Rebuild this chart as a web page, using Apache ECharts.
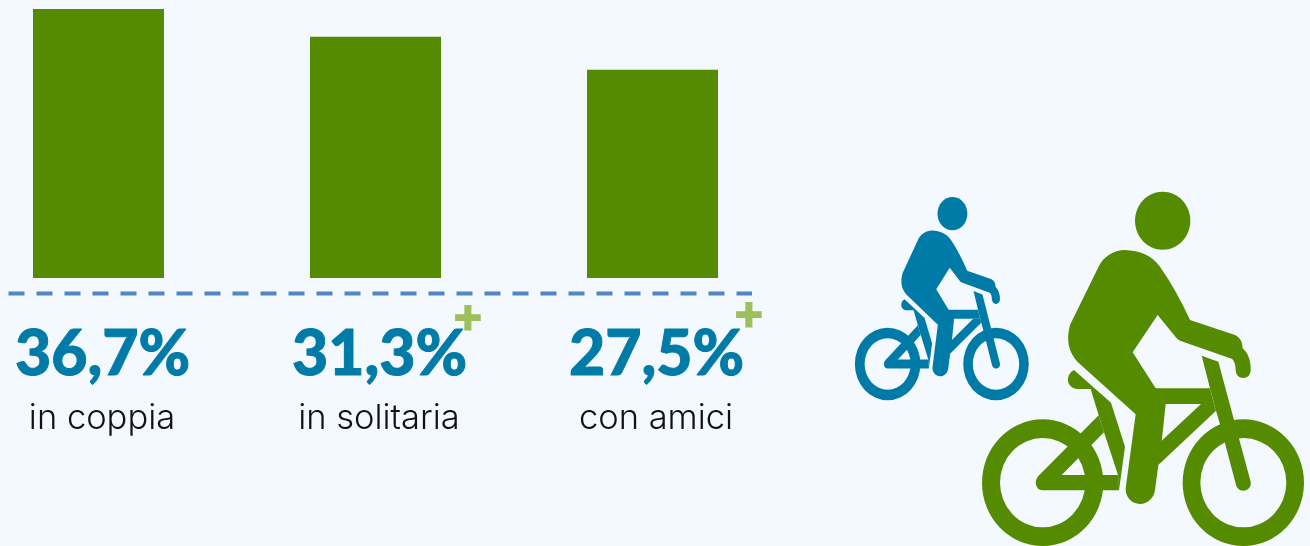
<!DOCTYPE html>
<html><head><meta charset="utf-8">
<style>html,body{margin:0;padding:0;background:#F4F9FF}#c{width:1310px;height:546px}</style>
<script src="https://cdn.jsdelivr.net/npm/echarts@6/dist/echarts.min.js"></script>
</head><body><div id="c"></div>
<script>
const categories = ['in coppia', 'in solitaria', 'con amici'];
const valueLabels = ['36,7%', '31,3%', '27,5%'];
// bar lengths as drawn in the picture (they are not strictly proportional to the printed figures)
const barValues = [36.7, 32.9, 28.4];
const GREEN = '#558B00', BLUE = '#007BA7';

function cyclist(color, x, y, sx, sy) {
  const p = d => ({ type: 'path', shape: { pathData: d }, style: { fill: color } });
  const ring = (cx, cy, rx, ry, ix, iy) => p(
      `M${cx-rx} ${cy}A${rx} ${ry} 0 1 1 ${cx+rx} ${cy}A${rx} ${ry} 0 1 1 ${cx-rx} ${cy}Z` +
      `M${cx-ix} ${cy}A${ix} ${iy} 0 1 0 ${cx+ix} ${cy}A${ix} ${iy} 0 1 0 ${cx-ix} ${cy}Z`);
  return {
    type: 'group', x, y, scaleX: sx, scaleY: sy, silent: true,
    children: [
      { type: 'ellipse', shape: { cx: 578, cy: 122, rx: 83, ry: 87 }, style: { fill: color } },
      // body, arm, leg
      p('M465 210C510 212 545 225 570 260C605 310 635 365 660 420L795 465C810 472 817 485 818 505C835 520 843 545 842 570C842 585 832 594 820 594C806 594 798 584 797 570C797 555 793 542 785 536L630 482C622 478 618 473 612 465L563 405L488 517L557 625L587 672L575 785L565 855L555 930C552 955 532 972 510 972C485 972 465 950 467 925L497 703L322 545C295 515 288 480 300 435L385 262C400 230 430 210 465 210Z'),
      // top tube
      p('M550 625L720 625L732 672L550 672Z'),
      // down tube
      p('M693 672L732 672L738 692L565 855L560 810L575 782Z'),
      // fork
      p('M695 527L745 545L792 720L842 905C845 920 833 932 820 932C808 932 801 925 798 915L765 790L750 733L738 692L720 625Z'),
      // saddle and seat tube
      p('M312 570L423 668L465 800L447 931L444 885L402 757L386 706L362 627L325 627C315 627 305 625 297 612C290 600 295 578 312 570Z'),
      // rear diagonal stay
      p('M205 888L386 706L402 757L275 885L240 910Z'),
      // lower stay
      p('M218 885L445 885L447 931L218 931C198 931 190 905 205 888Z'),
      ring(218, 908, 182, 190, 128, 134),
      ring(820, 908, 182, 190, 129, 134)
    ]
  };
}

const chart = echarts.init(document.getElementById('c'));
chart.setOption({
  backgroundColor: '#F4F9FF',
  animation: false,
  grid: { left: 98.5, width: 554, top: 9, height: 269, containLabel: false },
  xAxis: {
    type: 'category', data: categories, boundaryGap: false,
    axisLine: { show: false }, axisTick: { show: false }, splitLine: { show: false },
    axisLabel: {
      interval: 0, margin: 42,
      formatter: (v, i) => `{v|${valueLabels[i]}}\n{c|${v}}`,
      rich: {
        v: { fontFamily: 'Lato', fontWeight: 900, fontSize: 62.5, lineHeight: 70, color: BLUE, textBorderColor: BLUE, textBorderWidth: 1, padding: [0, 0, 0, 8] },
        c: { fontFamily: 'Inter', fontWeight: 300, fontSize: 34.5, lineHeight: 58, color: '#111', padding: [0, 0, 0, 7] }
      }
    }
  },
  yAxis: { type: 'value', min: 0, max: 36.7, show: false },
  series: [
    { type: 'bar', data: barValues, barWidth: 131, clip: false, itemStyle: { color: GREEN } },
    { type: 'custom', coordinateSystem: 'none', data: [0], silent: true, renderItem: () => cyclist(BLUE, 848.4, 190.3, 0.18, 0.1913) },
    { type: 'custom', coordinateSystem: 'none', data: [0], silent: true, renderItem: () => cyclist(GREEN, 970, 180, 1/3, 1/3) }
  ],
  graphic: [
    { type: 'line', shape: { x1: 8.5, y1: 293.5, x2: 752, y2: 293.5 }, style: { stroke: '#5585C0', lineWidth: 4, lineDash: [16, 12] } },
    { type: 'text', x: 468, y: 317, style: { text: '+', fill: '#9FBF5A', font: '800 50px Inter', align: 'center', verticalAlign: 'middle' } },
    { type: 'text', x: 749, y: 314, style: { text: '+', fill: '#9FBF5A', font: '800 50px Inter', align: 'center', verticalAlign: 'middle' } }
  ]
});
</script></body></html>
